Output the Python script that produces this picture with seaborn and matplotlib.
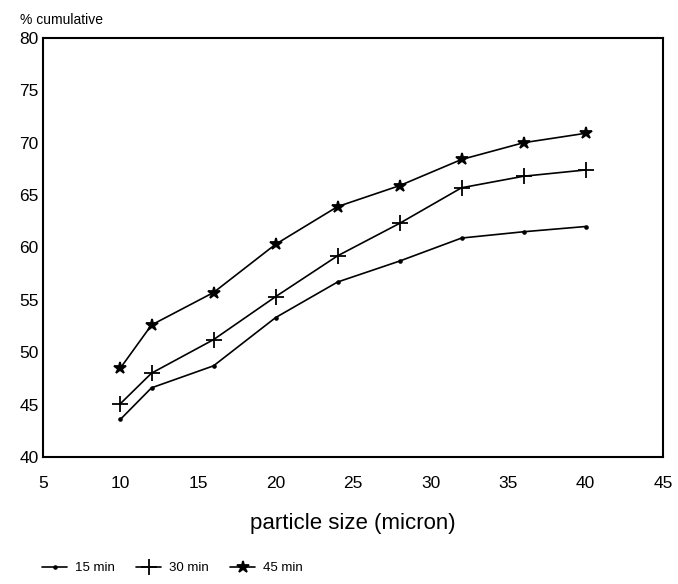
import matplotlib
matplotlib.use("Agg")
import matplotlib.pyplot as plt
import seaborn as sns
import pandas as pd
from matplotlib.lines import Line2D

sizes = [10, 12, 16, 20, 24, 28, 32, 36, 40]
min15 = [43.6, 46.6, 48.7, 53.3, 56.7, 58.7, 60.9, 61.5, 62.0]
min30 = [45.1, 48.0, 51.2, 55.3, 59.2, 62.3, 65.7, 66.8, 67.4]
min45 = [48.5, 52.6, 55.7, 60.3, 63.9, 65.9, 68.4, 70.0, 70.9]
series_names = ["15 min", "30 min", "45 min"]
x_ticks = [5, 10, 15, 20, 25, 30, 35, 40, 45]
y_ticks = [40, 45, 50, 55, 60, 65, 70, 75, 80]

sns.set_theme(style="white")
plt.rcParams['font.family'] = ['Liberation Sans', 'DejaVu Sans']
plt.rcParams['text.color'] = 'black'

fig = plt.figure(figsize=(6.78, 5.84), dpi=100)
ax = fig.add_axes([0.0634, 0.2175, 0.9146, 0.7175])

marker_list = [".", "+", "*"]
msizes = [4, 11, 9]
for name, vals, mk, ms in zip(series_names, [min15, min30, min45], marker_list, msizes):
    d = pd.DataFrame({"size": sizes, "value": vals})
    sns.lineplot(data=d, x="size", y="value", color="black", marker=mk,
                 markersize=ms, markeredgewidth=1.3, markeredgecolor="black",
                 linewidth=1.2, ax=ax, legend=False)

ax.set_xlim(5, 45)
ax.set_ylim(40, 80)
ax.set_xticks(x_ticks)
ax.set_yticks(y_ticks)
ax.tick_params(axis='both', direction='in', length=5, width=1.2, colors='black',
               labelsize=12.5)
ax.tick_params(axis='x', pad=14)
ax.tick_params(axis='y', pad=3)
for sp in ax.spines.values():
    sp.set_color('black')
    sp.set_linewidth(1.5)
ax.set_xlabel("")
ax.set_ylabel("")

fig.text(0.03, 0.965, "% cumulative", fontsize=10, ha='left', va='center', color='black')
fig.text(0.52, 0.104, "particle size (micron)", fontsize=16, ha='center', va='center', color='black')

handles = [Line2D([], [], color='black', marker=m, markersize=s, markeredgewidth=1.3, lw=1.2)
           for m, s in zip(marker_list, msizes)]
fig.legend(handles, series_names, loc='center left', bbox_to_anchor=(0.045, 0.027),
           ncol=3, frameon=False, fontsize=9.5, handlelength=1.9, columnspacing=1.6,
           handletextpad=0.6, labelcolor='black')

fig.savefig("out.png", dpi=100)
